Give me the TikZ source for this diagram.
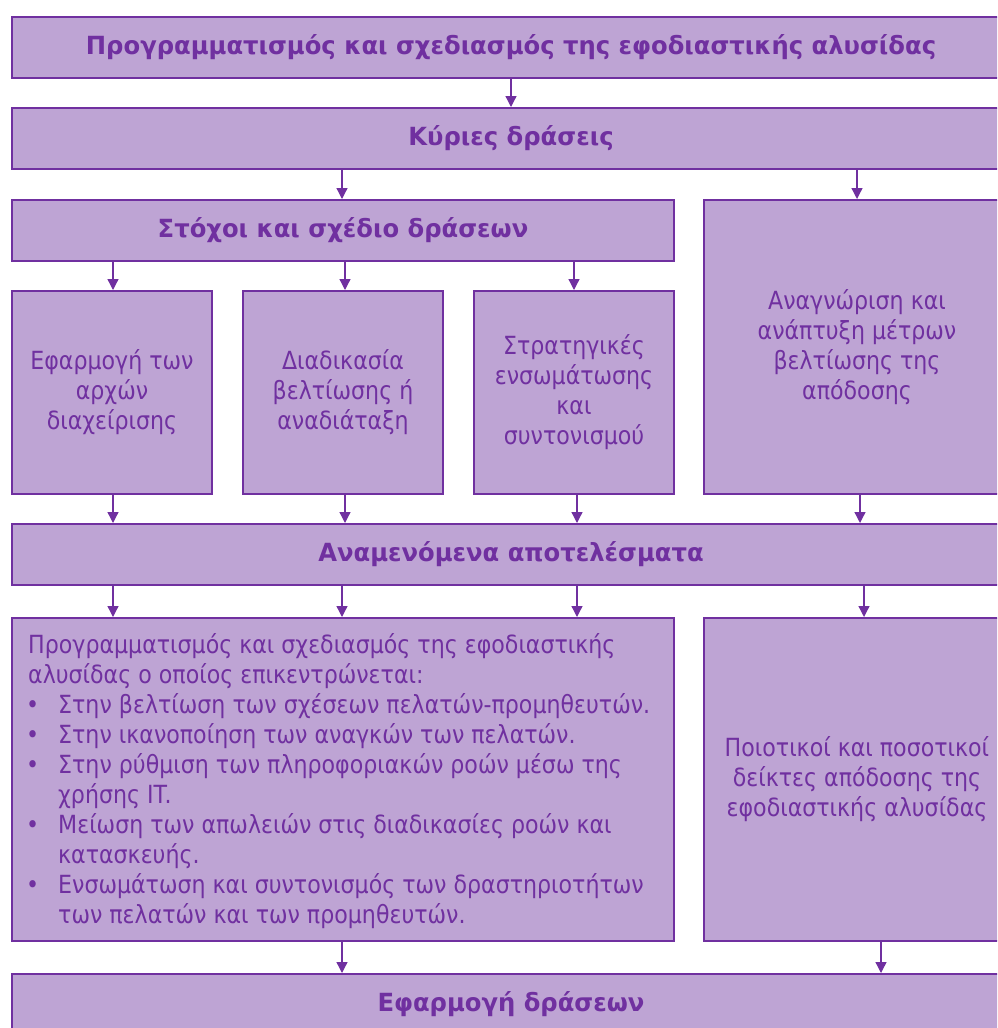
\documentclass[tikz,border=0pt]{standalone}
\usepackage{fontspec}
\setmainfont{DejaVu Sans}[FakeStretch=0.885, BoldFeatures={FakeStretch=0.97}]
\usetikzlibrary{arrows.meta}
\definecolor{boxfill}{HTML}{BEA4D4}
\definecolor{boxline}{HTML}{7030A0}
\tikzset{
  box/.style={draw=boxline, fill=boxfill, line width=2pt, rectangle,
    anchor=north west, inner sep=0pt, text=boxline, align=center,
    font=\fontsize{25}{30}\selectfont},
  headbox/.style={box, font=\fontsize{25}{30}\selectfont\bfseries},
  bodytext/.style={inner sep=0pt, text=boxline, align=left,
    font=\fontsize{25}{30}\selectfont},
  arr/.style={draw=boxline, line width=1.3pt,
    -{Triangle[length=11pt,width=11pt]}},
}
\newcommand{\bul}{\makebox[30pt][l]{\hspace{-2pt}•}}
\newcommand{\cont}{\hspace*{30pt}}
\begin{document}
\begin{tikzpicture}[x=1pt,y=-1pt]
\useasboundingbox (0,0) rectangle (997,1028);
\clip (0,0) rectangle (997,1028);

% boxes
\node[headbox, minimum width=998pt, minimum height=61pt] (t1) at (11,16)
  {Προγραμματισμός και σχεδιασμός της εφοδιαστικής αλυσίδας};
\node[headbox, minimum width=998pt, minimum height=61pt] (t2) at (11,107)
  {Κύριες δράσεις};
\node[headbox, minimum width=662pt, minimum height=61pt] (goal) at (11,199)
  {Στόχοι και σχέδιο δράσεων};
\node[box, minimum width=306pt, minimum height=294pt] (meas) at (703,199)
  {Αναγνώριση και\\ανάπτυξη μέτρων\\βελτίωσης της\\απόδοσης};
\node[box, minimum width=200pt, minimum height=203pt] (a) at (11,290)
  {Εφαρμογή των\\αρχών\\διαχείρισης};
\node[box, minimum width=200pt, minimum height=203pt] (b) at (242,290)
  {Διαδικασία\\βελτίωσης ή\\αναδιάταξη};
\node[box, minimum width=200pt, minimum height=203pt] (c) at (473,290)
  {Στρατηγικές\\ενσωμάτωσης\\και\\συντονισμού};
\node[headbox, minimum width=998pt, minimum height=61pt] (exp) at (11,523)
  {Αναμενόμενα αποτελέσματα};
\node[box, minimum width=662pt, minimum height=323pt] (plan) at (11,617) {};
\node[bodytext, anchor=west] (plantext) at ([xshift=17pt,yshift=-2pt]plan.west)
  {Προγραμματισμός και σχεδιασμός της εφοδιαστικής\\
   αλυσίδας ο οποίος επικεντρώνεται:\\
   \bul Στην βελτίωση των σχέσεων πελατών-προμηθευτών.\\
   \bul Στην ικανοποίηση των αναγκών των πελατών.\\
   \bul Στην ρύθμιση των πληροφοριακών ροών μέσω της\\
   \cont χρήσης IT.\\
   \bul Μείωση των απωλειών στις διαδικασίες ροών και\\
   \cont κατασκευής.\\
   \bul Ενσωμάτωση και συντονισμός των δραστηριοτήτων\\
   \cont των πελατών και των προμηθευτών.};
\node[box, minimum width=306pt, minimum height=323pt] (kpi) at (703,617)
  {Ποιοτικοί και ποσοτικοί\\δείκτες απόδοσης της\\εφοδιαστικής αλυσίδας};
\node[headbox, minimum width=998pt, minimum height=61pt] (impl) at (11,973)
  {Εφαρμογή δράσεων};

% arrow columns
\foreach \x in {113,342,345,511,574,577,857,860,864,881}
  \coordinate (x\x) at (\x,0);

% connectors
\draw[arr] (t1.south -| x511) -- (t2.north -| x511);
\draw[arr] (t2.south -| x342) -- (goal.north -| x342);
\draw[arr] (t2.south -| x857) -- (meas.north -| x857);
\draw[arr] (goal.south -| x113) -- (a.north -| x113);
\draw[arr] (goal.south -| x345) -- (b.north -| x345);
\draw[arr] (goal.south -| x574) -- (c.north -| x574);
\draw[arr] (a.south -| x113) -- (exp.north -| x113);
\draw[arr] (b.south -| x345) -- (exp.north -| x345);
\draw[arr] (c.south -| x577) -- (exp.north -| x577);
\draw[arr] (meas.south -| x860) -- (exp.north -| x860);
\draw[arr] (exp.south -| x113) -- (plan.north -| x113);
\draw[arr] (exp.south -| x342) -- (plan.north -| x342);
\draw[arr] (exp.south -| x577) -- (plan.north -| x577);
\draw[arr] (exp.south -| x864) -- (kpi.north -| x864);
\draw[arr] (plan.south -| x342) -- (impl.north -| x342);
\draw[arr] (kpi.south -| x881) -- (impl.north -| x881);
\end{tikzpicture}
\end{document}
